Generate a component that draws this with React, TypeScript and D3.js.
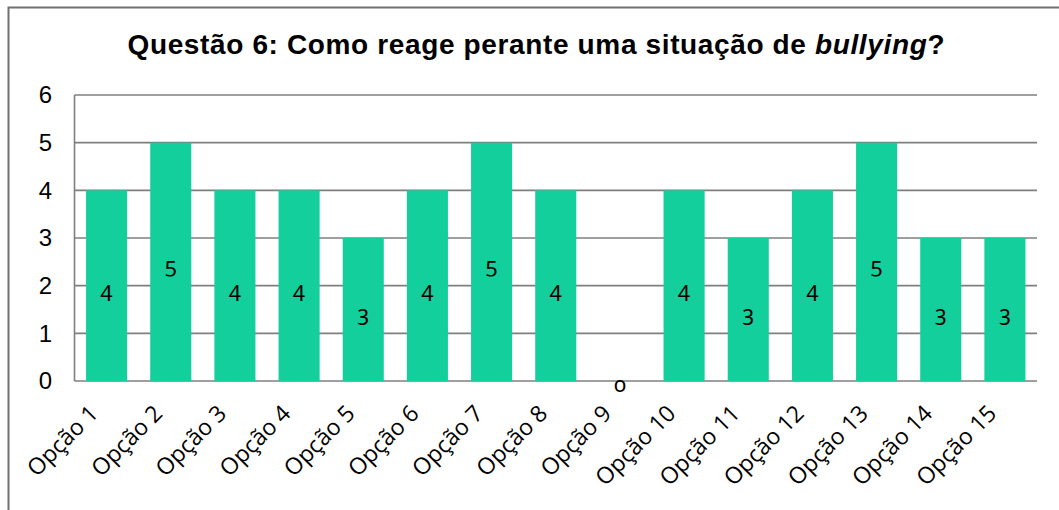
import React from 'react';
import * as d3 from 'd3';

const categories = ['Opção 1', 'Opção 2', 'Opção 3', 'Opção 4', 'Opção 5', 'Opção 6', 'Opção 7', 'Opção 8',
  'Opção 9', 'Opção 10', 'Opção 11', 'Opção 12', 'Opção 13', 'Opção 14', 'Opção 15'];
const values = [4, 5, 4, 4, 3, 4, 5, 4, 0, 4, 3, 4, 5, 3, 3];
const yTicks = [0, 1, 2, 3, 4, 5, 6];

const width = 1059;
const height = 510;
const margin = { top: 95, right: 22, bottom: 129, left: 74.5 };

const App = () => {
  // scales for the plot area
  const x = d3.scaleBand<string>()
    .domain(categories)
    .range([margin.left, width - margin.right])
    .paddingInner(0.36)
    .paddingOuter(0.18);
  const y = d3.scaleLinear().domain([0, 6]).range([height - margin.bottom, margin.top]);

  const grid = '#7f7f7f';

  return (
    <svg width={width} height={height} style={{ position: 'absolute', left: 0, top: 0, background: '#fff' }}>
      {/* chart frame */}
      <rect x={8.5} y={7.5} width={1060} height={520} fill="#fff" stroke="#707070" strokeWidth={2} />

      <text x={536} y={54} textAnchor="middle" fontFamily="Arial, 'Liberation Sans', sans-serif"
        fontWeight="bold" fontSize={28} fill="#000" textLength={817} lengthAdjust="spacing">
        Questão 6: Como reage perante uma situação de <tspan fontStyle="italic">bullying</tspan>?
      </text>

      {/* gridlines */}
      {yTicks.map((t) => (
        <line key={t} x1={margin.left} x2={width - margin.right} y1={y(t)} y2={y(t)} stroke={grid} strokeWidth={1.6} />
      ))}
      <line x1={margin.left} x2={margin.left} y1={y(6)} y2={y(0)} stroke={grid} strokeWidth={1.6} />

      {/* y tick labels */}
      {yTicks.map((t) => (
        <text key={t} x={52} y={y(t)} dy="0.35em" textAnchor="end"
          fontFamily="Arial, 'Liberation Sans', sans-serif" fontSize={24} fill="#000">{t}</text>
      ))}

      {/* bars */}
      {categories.map((c, i) => (
        <rect key={c} x={x(c)} y={y(values[i])} width={x.bandwidth()} height={y(0) - y(values[i])}
          fill="#13CF9B" />
      ))}

      {/* value labels */}
      {categories.map((c, i) => (
        <text key={c} x={(x(c) ?? 0) + x.bandwidth() / 2} y={(y(values[i]) + y(0)) / 2 + 11}
          textAnchor="middle" fontFamily="'Noto Sans', sans-serif" fontSize={22}
          style={{ fontFeatureSettings: '"onum"' }} fill="#000">{values[i]}</text>
      ))}

      {/* x tick labels */}
      {categories.map((c) => {
        const cx = (x(c) ?? 0) + x.bandwidth() / 2 - 7;
        const cy = y(0) + 34;
        return (
          <text key={c} transform={`translate(${cx},${cy}) rotate(-45)`} textAnchor="end"
            fontFamily="'Open Sans', sans-serif" fontSize={23} fill="#000">{c}</text>
        );
      })}
    </svg>
  );
};

export default App;
